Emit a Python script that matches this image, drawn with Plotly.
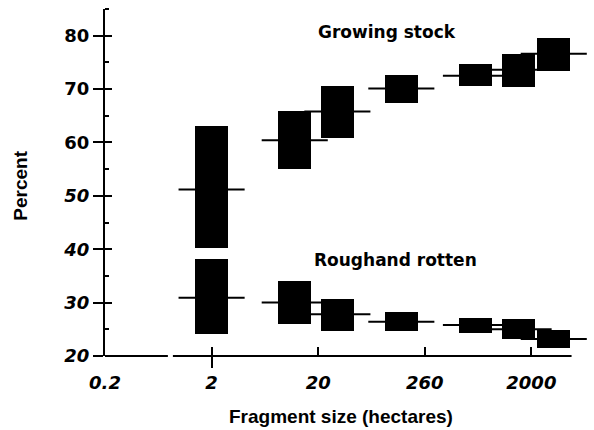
import plotly.graph_objects as go

# ---- data ----
size_labels = ["0.2", "2", "20", "260", "2000"]
size_tick_pos = [0, 1, 2, 3, 4]
class_pos = [1.0, 1.78, 2.18, 2.78, 3.48, 3.88, 4.21]

growing_low = [40.3, 55.0, 60.9, 67.4, 70.5, 70.4, 73.4]
growing_high = [63.0, 65.9, 70.6, 72.7, 74.7, 76.6, 79.6]
growing_mean = [51.2, 60.4, 65.8, 70.1, 72.5, 73.6, 76.6]

rough_low = [24.2, 26.0, 24.7, 24.6, 24.4, 23.1, 21.5]
rough_high = [38.1, 34.1, 30.6, 28.3, 27.2, 26.9, 24.9]
rough_mean = [30.9, 30.0, 27.8, 26.4, 25.8, 25.0, 23.2]

y_ticks = [20, 30, 40, 50, 60, 70, 80]
y_tick_text = ["<i>20</i>", "<i>30</i>", "<i>40</i>", "<i>50</i>", "60", "70", "80"]

BOX_W = 0.31
HALF_LINE = 0.31

fig = go.Figure()

# boxes
for lo, hi in ((growing_low, growing_high), (rough_low, rough_high)):
    fig.add_trace(go.Bar(
        x=class_pos,
        y=[h - l for l, h in zip(lo, hi)],
        base=lo,
        width=BOX_W,
        marker=dict(color="black", line=dict(width=0)),
        showlegend=False,
        hoverinfo="skip",
    ))

# mean lines
lx, ly = [], []
for means in (growing_mean, rough_mean):
    for p, m in zip(class_pos, means):
        lx += [p - HALF_LINE, p + HALF_LINE, None]
        ly += [m, m, None]
fig.add_trace(go.Scatter(
    x=lx, y=ly, mode="lines",
    line=dict(color="black", width=2),
    xaxis="x2", yaxis="y2",
    showlegend=False, hoverinfo="skip",
))

XR = [0, 4.55]
YR = [20, 85]
tickfont = dict(family="DejaVu Sans", size=18, color="black", weight="bold")

fig.update_layout(
    width=594, height=430,
    margin=dict(l=105, r=4, t=9, b=74),
    paper_bgcolor="white", plot_bgcolor="white",
    barmode="overlay",
    bargap=0,
    xaxis=dict(
        range=XR, showline=False, showgrid=False, zeroline=False,
        tickvals=size_tick_pos, ticktext=["<i>%s</i>" % s for s in size_labels],
        ticks="inside", ticklen=9, tickwidth=2, tickcolor="black",
        ticklabelstandoff=14, tickfont=tickfont,
    ),
    xaxis2=dict(
        range=XR, overlaying="x", anchor="y", side="bottom",
        showline=False, showgrid=False, zeroline=False,
        tickvals=[1], ticks="outside", ticklen=11, tickwidth=2, tickcolor="black",
        showticklabels=False,
    ),
    yaxis=dict(
        range=YR, showline=True, linewidth=2, linecolor="black",
        showgrid=False, zeroline=False,
        tickvals=y_ticks, ticktext=y_tick_text,
        ticks="outside", ticklen=10, tickwidth=2, tickcolor="black",
        tickfont=tickfont,
        minor=dict(dtick=5, tick0=0, ticks="inside", ticklen=4, tickwidth=1.5,
                   tickcolor="black", showgrid=False),
    ),
    yaxis2=dict(
        range=YR, overlaying="y", anchor="x", side="left",
        showline=False, showgrid=False, zeroline=False,
        tickvals=y_ticks, ticks="inside", ticklen=7, tickwidth=2, tickcolor="black",
        showticklabels=False,
    ),
    shapes=[
        dict(type="line", xref="x", yref="paper", x0=0, x1=0.59, y0=0, y1=0,
             line=dict(color="black", width=2)),
        dict(type="line", xref="x", yref="paper", x0=0.637, x1=4.377, y0=0, y1=0,
             line=dict(color="black", width=2)),
    ],
    annotations=[
        dict(text="Growing stock", x=2.648, y=80.6, xref="x", yref="y",
             showarrow=False, xanchor="center", yanchor="middle",
             font=dict(family="DejaVu Sans", size=17, color="black", weight="bold")),
        dict(text="Roughand rotten", x=2.727, y=38.0, xref="x", yref="y",
             showarrow=False, xanchor="center", yanchor="middle",
             font=dict(family="DejaVu Sans", size=17, color="black", weight="bold")),
        dict(text="Percent", x=-0.173, y=0.491, xref="paper", yref="paper",
             showarrow=False, xanchor="center", yanchor="middle", textangle=-90,
             font=dict(family="Liberation Sans", size=19, color="black", weight="bold")),
        dict(text="Fragment size (hectares)", x=0.486, y=-0.173, xref="paper", yref="paper",
             showarrow=False, xanchor="center", yanchor="middle",
             font=dict(family="Liberation Sans", size=19, color="black", weight="bold")),
    ],
)

fig.write_html("out.html")
